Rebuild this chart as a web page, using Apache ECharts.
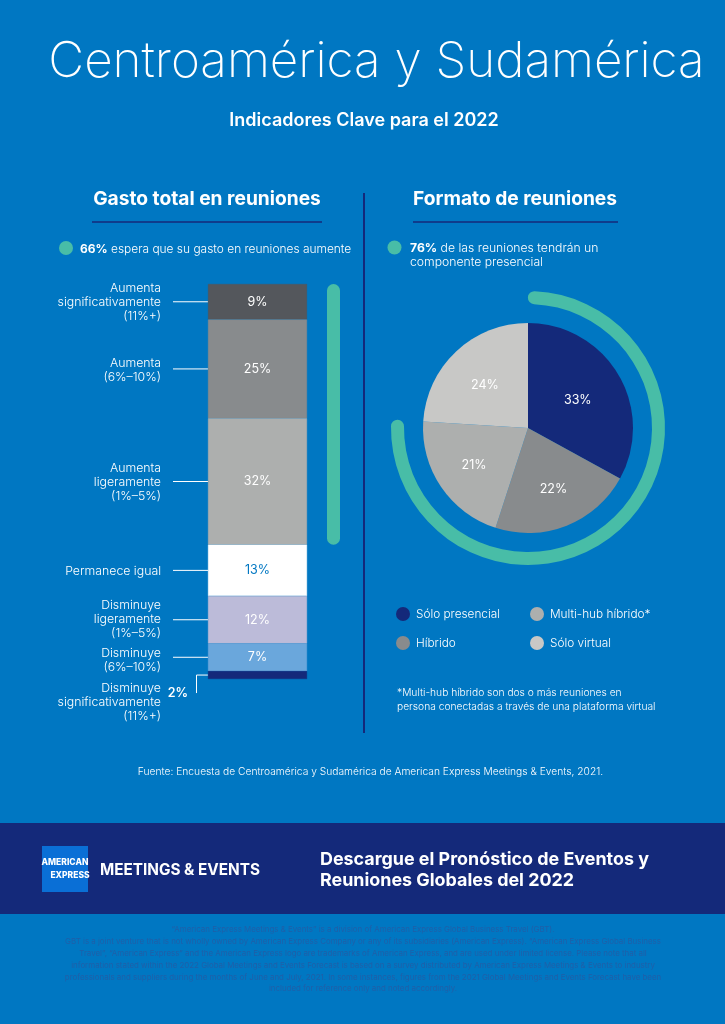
<!DOCTYPE html>
<html>
<head>
<meta charset="utf-8">
<title>Centroamérica y Sudamérica</title>
<script src="https://cdn.jsdelivr.net/npm/echarts@6/dist/echarts.min.js"></script>
<style>
  html, body { margin: 0; padding: 0; background: #0077c2; }
  #chart { width: 725px; height: 1024px; }
</style>
</head>
<body>
<div id="chart"></div>
<script>
const spendLabels = [
  'Aumenta\nsignificativamente\n(11%+)',
  'Aumenta\n(6%–10%)',
  'Aumenta\nligeramente\n(1%–5%)',
  'Permanece igual',
  'Disminuye\nligeramente\n(1%–5%)',
  'Disminuye\n(6%–10%)',
  'Disminuye\nsignificativamente\n(11%+)'
]
const spendValues = [9, 25, 32, 13, 12, 7, 2]
const spendIncrease = 66

const formatNames = ['Sólo presencial', 'Híbrido', 'Multi-hub híbrido*', 'Sólo virtual']
const formatValues = [33, 22, 21, 24]
const inPersonShare = 76

const FONT = 'Inter, "Noto Sans", sans-serif'
const BG = '#0077c2'
const NAVY = '#14297a'
const GREEN = '#48bda7'
const spendColors = ['#54575c', '#888b8d', '#adafae', '#ffffff', '#bcbbd9', '#6aa7dc', NAVY]
const formatColors = [NAVY, '#888b8d', '#adafae', '#c8c8c6']
const labelNudge = [[2, 0], [5, 10], [-8, 6], [-5, -2]]
const spendLabelShift = [1, 1, 1, 1, 0, 3]

const pieCenter = [528, 428]
const barLeft = 208

function text(x, y, str, opts) {
  return {
    type: 'text', x: x, y: y, silent: true,
    style: Object.assign({
      text: str, fill: '#fff', fontFamily: FONT, fontSize: 12, fontWeight: 300,
      align: 'left', verticalAlign: 'middle', lineHeight: 14
    }, opts)
  }
}
function rect(x, y, w, h, fill) {
  return { type: 'rect', silent: true, shape: { x: x, y: y, width: w, height: h }, style: { fill: fill } }
}
function circle(cx, cy, r, fill) {
  return { type: 'circle', silent: true, shape: { cx: cx, cy: cy, r: r }, style: { fill: fill } }
}
function line(x1, y1, x2, y2, stroke, width) {
  return { type: 'line', silent: true, shape: { x1: x1, y1: y1, x2: x2, y2: y2 }, style: { stroke: stroke, lineWidth: width } }
}

const finePrint = [
  '“American Express Meetings & Events” is a division of American Express Global Business Travel (GBT).',
  'GBT is a joint venture that is not wholly owned by American Express Company or any of its subsidiaries (American Express). “American Express Global Business',
  'Travel”, “American Express” and the American Express logo are trademarks of American Express, and are used under limited license. Please note that all',
  'information stated within the 2022 Global Meetings and Events Forecast is based on a survey distributed by American Express Meetings & Events to industry',
  'professionals and suppliers during the months of June and July, 2021. In some instances, figures from the 2021 Global Meetings and Events Forecast have been',
  'included for reference only and noted accordingly.'
]

function boldRich(size) {
  return { b: { fontWeight: 700, fontSize: size, fill: '#fff', fontFamily: FONT } }
}

const staticGraphics = [
  text(376.5, 62, 'Centroamérica y Sudamérica', { align: 'center', fontSize: 49.4, fontWeight: 200, lineHeight: 58 }),
  text(364, 121, 'Indicadores Clave para el 2022', { align: 'center', fontSize: 18, fontWeight: 600, lineHeight: 22 }),

  text(207, 199, 'Gasto total en reuniones', { align: 'center', fontSize: 19.2, fontWeight: 700, lineHeight: 22 }),
  line(92, 222, 322, 222, NAVY, 1.5),
  text(515, 199, 'Formato de reuniones', { align: 'center', fontSize: 19.2, fontWeight: 700, lineHeight: 22 }),
  line(413, 222, 618, 222, NAVY, 1.5),
  line(364, 193, 364, 733, NAVY, 2),

  circle(66, 248, 7, GREEN),
  text(80, 249, '{b|' + spendIncrease + '%} espera que su gasto en reuniones aumente', { fontSize: 11.95, rich: boldRich(11.95) }),
  circle(394.5, 247.5, 7, GREEN),
  text(410, 255, '{b|' + inPersonShare + '%} de las reuniones tendrán un\ncomponente presencial', { fontSize: 12.2, rich: boldRich(12.2) }),

  text(397, 700, '*Multi-hub híbrido son dos o más reuniones en\npersona conectadas a través de una plataforma virtual', { fontSize: 10.25, lineHeight: 14 }),
  text(370.5, 772, 'Fuente: Encuesta de Centroamérica y Sudamérica de American Express Meetings & Events, 2021.', { align: 'center', fontSize: 10.25 }),

  rect(0, 823, 725, 91, NAVY),
  rect(42, 846, 46, 46, '#0a6fd6'),
  text(65, 862, 'AMERICAN', { align: 'center', fontSize: 8.5, fontWeight: 800, lineHeight: 10 }),
  text(70, 875, 'EXPRESS', { align: 'center', fontSize: 8.5, fontWeight: 800, lineHeight: 10 }),
  text(100, 870, 'MEETINGS & EVENTS', { fontSize: 15.3, fontWeight: 700 }),
  text(320, 870.5, 'Descargue el Pronóstico de Eventos y\nReuniones Globales del 2022', { fontSize: 17.9, fontWeight: 700, lineHeight: 21 })
]
finePrint.forEach((row, i) => {
  staticGraphics.push(text(363, 930 + i * 11.8, row, { align: 'center', fontSize: 7.9, fontWeight: 400, fill: '#1f5fa8', lineHeight: 10 }))
})

const chart = echarts.init(document.getElementById('chart'), null, { renderer: 'canvas' })

const legendBase = {
  top: 602, orient: 'vertical', itemWidth: 14, itemHeight: 14, itemGap: 15, icon: 'circle', selectedMode: false,
  textStyle: { color: '#fff', fontFamily: FONT, fontSize: 11.8, fontWeight: 300, padding: [0, 0, 0, 1] }
}

chart.setOption({
  animation: false,
  backgroundColor: BG,
  grid: [
    { left: barLeft, top: 284, width: 99, height: 395 },
    { left: 327, top: 284, width: 13, height: 395 }
  ],
  xAxis: [
    { type: 'category', gridIndex: 0, data: ['gasto'], show: false },
    { type: 'category', gridIndex: 1, data: ['aumenta'], show: false }
  ],
  yAxis: [
    { type: 'value', gridIndex: 0, min: 0, max: 100, inverse: true, show: false },
    { type: 'value', gridIndex: 1, min: 0, max: 100, inverse: true, show: false }
  ],
  legend: [
    Object.assign({ left: 391, data: formatNames.slice(0, 2) }, legendBase),
    Object.assign({ left: 525, data: formatNames.slice(2) }, legendBase)
  ],
  series: spendValues.map((v, i) => ({
    type: 'bar',
    stack: 'gasto',
    barWidth: '100%',
    silent: true,
    data: [v],
    itemStyle: { color: spendColors[i], borderColor: spendColors[i], borderWidth: 0.4 },
    label: {
      show: i < spendValues.length - 1,
      position: 'inside',
      formatter: '{c}%',
      fontFamily: FONT,
      fontSize: 12.5,
      fontWeight: 400,
      color: spendColors[i] == '#ffffff' ? BG : '#fff'
    }
  })).concat([
    {
      type: 'bar',
      xAxisIndex: 1,
      yAxisIndex: 1,
      barWidth: '100%',
      silent: true,
      data: [spendIncrease],
      itemStyle: { color: GREEN, borderRadius: 6.5 }
    },
    {
      id: 'formato',
      type: 'pie',
      center: pieCenter,
      radius: [0, 105],
      startAngle: 90,
      silent: true,
      data: formatNames.map((name, i) => ({ name: name, value: formatValues[i], itemStyle: { color: formatColors[i] } })),
      label: {
        position: 'inside',
        formatter: '{c}%',
        fontFamily: FONT,
        fontSize: 12.5,
        fontWeight: 400,
        color: '#fff'
      }
    },
    {
      // the round caps stick out past the arc ends, so the sweep is pulled in to land on 76%
      type: 'gauge',
      center: pieCenter,
      radius: 137,
      startAngle: 87.2,
      endAngle: -265.4,
      min: 0,
      max: 100,
      silent: true,
      pointer: { show: false },
      axisLine: { show: false },
      axisTick: { show: false },
      splitLine: { show: false },
      axisLabel: { show: false },
      detail: { show: false },
      title: { show: false },
      progress: { show: true, width: 13, roundCap: true, itemStyle: { color: GREEN } },
      data: [{ value: inPersonShare }]
    }
  ]),
  graphic: staticGraphics
})

// category labels and leader lines follow the stacked bar through the axis scale
const leaders = []
let running = 0
spendValues.forEach((v, i) => {
  const midY = chart.convertToPixel({ yAxisIndex: 0 }, running + v / 2)
  const last = i == spendValues.length - 1
  if (!last) {
    leaders.push(line(173, midY, barLeft, midY, '#fff', 1))
    leaders.push(text(161, midY + spendLabelShift[i], spendLabels[i], { align: 'right', fontSize: 12.3 }))
  } else {
    leaders.push({ type: 'polyline', silent: true, shape: { points: [[barLeft, midY], [196.5, midY], [196.5, midY + 18]] }, style: { stroke: '#fff', lineWidth: 1, fill: 'none' } })
    leaders.push(text(161, midY + 27, spendLabels[i], { align: 'right', fontSize: 12.3 }))
    leaders.push(text(178, midY + 18, v + '%', { align: 'center', fontSize: 12.5, fontWeight: 600 }))
  }
  running += v
})

// labelLayout goes in here with the last update: a later setOption would apply its dx, dy a second time
chart.setOption({
  series: [{
    id: 'formato',
    labelLayout: (params) => ({ dx: labelNudge[params.dataIndex][0], dy: labelNudge[params.dataIndex][1] })
  }],
  graphic: staticGraphics.concat(leaders)
})
</script>
</body>
</html>
